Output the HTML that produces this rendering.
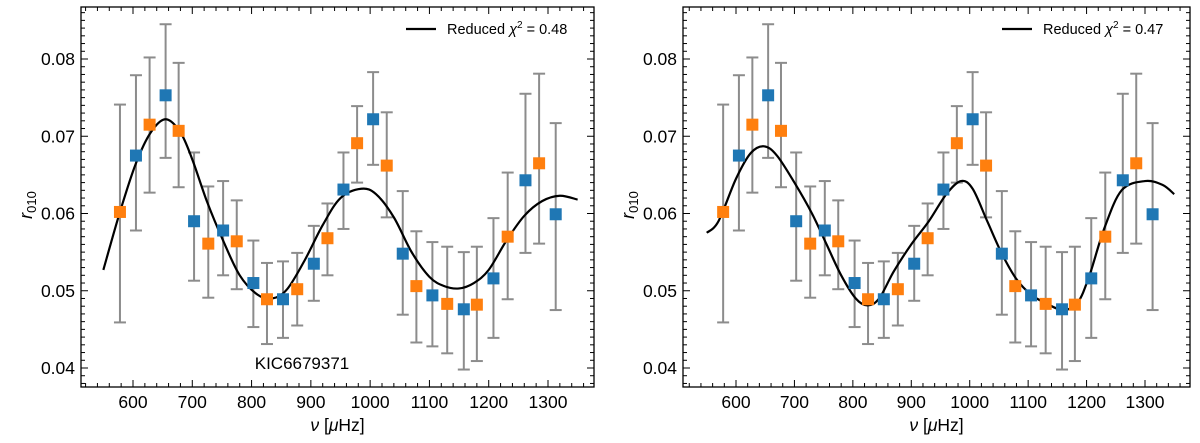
<!DOCTYPE html>
<html><head><meta charset="utf-8"><style>
body{margin:0;background:#fff;width:1200px;height:438px;overflow:hidden}
svg{font-family:"Liberation Sans","DejaVu Sans",sans-serif}
</style></head><body>
<svg id="chart" width="1200" height="438"></svg>
<script>
const freqs=[578,605,628,655,677,703,727,752,775,803,826,853,877,905,928,955,978,1005,1028,1055,1078,1105,1130,1158,1180,1208,1232,1262,1285,1313];
const r010=[0.0602,0.0675,0.0715,0.0753,0.0707,0.059,0.0561,0.0578,0.0564,0.0510,0.0489,0.0489,0.0502,0.0535,0.0568,0.0631,0.0691,0.0722,0.0662,0.0548,0.0506,0.0494,0.0483,0.0476,0.0482,0.0516,0.0570,0.0643,0.0665,0.0599];
const errLo=[0.0459,0.0578,0.0627,0.0672,0.0634,0.0513,0.0491,0.0520,0.0502,0.0453,0.0431,0.0439,0.0455,0.0487,0.0520,0.0580,0.0640,0.0663,0.0595,0.0469,0.0433,0.0428,0.0419,0.0398,0.0409,0.0439,0.0489,0.0549,0.0561,0.0475];
const errHi=[0.0741,0.0779,0.0802,0.0845,0.0795,0.0679,0.0635,0.0642,0.0617,0.0565,0.0536,0.0538,0.0549,0.0584,0.0613,0.0679,0.0739,0.0783,0.0731,0.0629,0.0577,0.0563,0.0557,0.0550,0.0557,0.0594,0.0653,0.0755,0.0781,0.0717];
const fitLeftX=[550,578,605,630,655,680,700,725,752,780,810,835,860,890,920,950,985,1010,1040,1070,1100,1125,1150,1175,1200,1230,1260,1290,1320,1350];
const fitLeftY=[0.0527,0.0602,0.0665,0.0705,0.0722,0.0705,0.0670,0.0615,0.0565,0.0520,0.0495,0.0490,0.0502,0.0540,0.0585,0.0620,0.0632,0.0625,0.0595,0.0550,0.0518,0.0506,0.0503,0.0510,0.0527,0.0565,0.0597,0.0616,0.0623,0.0618];
const fitRightX=[550,570,600,625,648,670,700,730,755,780,805,825,845,870,900,930,960,985,1005,1030,1055,1080,1105,1130,1160,1185,1205,1230,1260,1300,1330,1350];
const fitRightY=[0.0575,0.0590,0.0645,0.0678,0.0687,0.0675,0.0640,0.0600,0.0560,0.0520,0.0490,0.0481,0.0490,0.0525,0.0560,0.0590,0.0625,0.0642,0.0632,0.0590,0.0548,0.0515,0.0495,0.0484,0.0475,0.0485,0.0520,0.0580,0.0630,0.0642,0.0637,0.0625];
const xTicks=[600,700,800,900,1000,1100,1200,1300];
const yTicks=[0.04,0.05,0.06,0.07,0.08];
const chi=["0.48","0.47"];
const NS="http://www.w3.org/2000/svg";
const svg=document.getElementById('chart');
function mk(t,a,p){const e=document.createElementNS(NS,t);for(const k in a)e.setAttribute(k,a[k]);(p||svg).appendChild(e);return e;}
const panels=[{x0:81,x1:594,px600:133,px1300:548,fx:fitLeftX,fy:fitLeftY,name:'left'},{x0:683,x1:1190,px600:736,px1300:1145,fx:fitRightX,fy:fitRightY,name:'right'}];
const yTop=7,yBot=387;
const Y=v=>368-(v-0.04)*7725;
panels.forEach((P,pi)=>{
  const X=v=>P.px600+(v-600)*(P.px1300-P.px600)/700;
  const g=mk('g',{});
  
  
  let d=P.fx.map((v,i)=>[X(v),Y(P.fy[i])]);
  let path='M'+d[0][0]+','+d[0][1];
  for(let i=0;i<d.length-1;i++){const p0=d[Math.max(0,i-1)],p1=d[i],p2=d[i+1],p3=d[Math.min(d.length-1,i+2)];
    path+=` C${p1[0]+(p2[0]-p0[0])/6},${p1[1]+(p2[1]-p0[1])/6} ${p2[0]-(p3[0]-p1[0])/6},${p2[1]-(p3[1]-p1[1])/6} ${p2[0]},${p2[1]}`;}
  freqs.forEach((f,i)=>{
    const eb=mk('g',{stroke:'#8c8c8c','stroke-width':2},g);
    
    
    const x=X(f);
    mk('line',{x1:x,x2:x,y1:Y(errLo[i]),y2:Y(errHi[i])},eb);
    mk('line',{x1:x-6,x2:x+6,y1:Y(errLo[i]),y2:Y(errLo[i])},eb);
    mk('line',{x1:x-6,x2:x+6,y1:Y(errHi[i]),y2:Y(errHi[i])},eb);
  });
  const ln=mk('path',{d:path,fill:'none',stroke:'#000','stroke-width':2.2},g);
  
  
  freqs.forEach((f,i)=>{
    const s=mk('rect',{x:X(f)-6,y:Y(r010[i])-6,width:12,height:12,fill:i%2?'#1f77b4':'#ff7f0e'},g);
    
    
  });
  const fr=mk('rect',{x:P.x0,y:yTop,width:P.x1-P.x0,height:yBot-yTop,fill:'none',stroke:'#000','stroke-width':1.3},g);
  
  
  for(let v=520;v<=1380;v+=20){const x=X(v);if(x<P.x0||x>P.x1)continue;const L=v%100===0?7:4;
    mk('line',{x1:x,x2:x,y1:yBot,y2:yBot-L,stroke:'#000'},g);mk('line',{x1:x,x2:x,y1:yTop,y2:yTop+L,stroke:'#000'},g);}
  for(let k=38;k<=86;k++){const v=k/1000,y=Y(v);if(y<yTop||y>yBot)continue;const L=k%10===0?7:4;
    mk('line',{x1:P.x0,x2:P.x0+L,y1:y,y2:y,stroke:'#000'},g);mk('line',{x1:P.x1,x2:P.x1-L,y1:y,y2:y,stroke:'#000'},g);}
  xTicks.forEach(v=>{const t=mk('text',{x:X(v),y:408,'font-size':17.5,'text-anchor':'middle'},g);t.textContent=v;
    
    });
  yTicks.forEach(v=>{const t=mk('text',{x:P.x0-6,y:Y(v)+6,'font-size':17.5,'text-anchor':'end'},g);t.textContent=v.toFixed(2);
    
    });
  const xl=mk('text',{x:(P.x0+P.x1)/2,y:431,'font-size':17.5,'text-anchor':'middle'},g);
  xl.innerHTML='<tspan font-style="italic">ν</tspan> [<tspan font-style="italic">μ</tspan>Hz]';
  
  
  const yl=mk('text',{x:0,y:0,'font-size':18,'text-anchor':'middle',transform:`translate(${P.x0-49},205) rotate(-90)`},g);
  yl.innerHTML='<tspan font-style="italic">r</tspan><tspan font-size="13" dy="4">010</tspan>';
  
  
  const lg=mk('g',{},g);
  
  
  mk('line',{x1:P.x1-188,x2:P.x1-158,y1:29,y2:29,stroke:'#000','stroke-width':2.2},lg);
  const lt=mk('text',{x:P.x1-147,y:34,'font-size':14.5},lg);
  lt.innerHTML='Reduced <tspan font-style="italic">χ</tspan><tspan font-size="10" dy="-6">2</tspan><tspan dy="6"> = '+chi[pi]+'</tspan>';
});
const kic=mk('text',{x:302,y:369,'font-size':17,'text-anchor':'middle'});kic.textContent='KIC6679371';


</script>
</body></html>
